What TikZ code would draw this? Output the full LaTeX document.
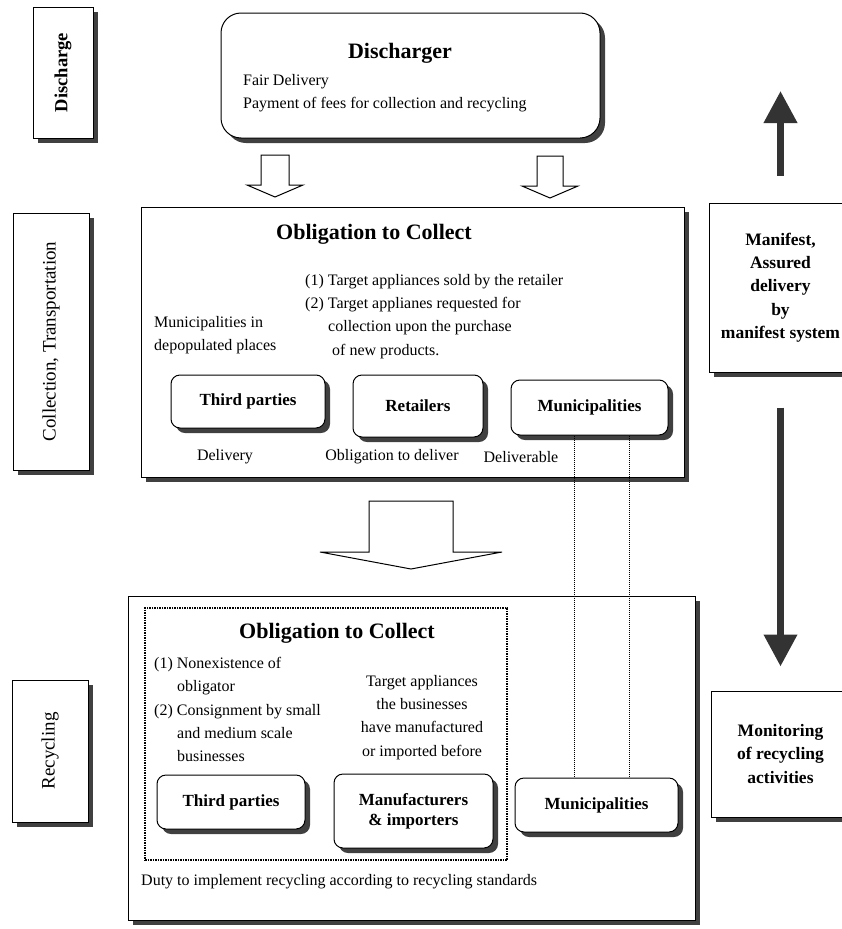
\documentclass[tikz,border=0pt]{standalone}
\usepackage{fontspec}
\setmainfont{Liberation Serif}
\usetikzlibrary{arrows.meta,positioning,shadows}

\begin{document}
\begin{tikzpicture}[
  x=1pt,y=-1pt,
  shadowed/.style={drop shadow={shadow xshift=5pt,shadow yshift=-5pt,fill=black!75,opacity=1}},
  panel/.style={draw,line width=1pt,fill=white,shadowed,inner sep=0pt},
  party/.style={panel,rounded corners=9pt,align=center,font=\fontsize{17}{20}\selectfont\bfseries},
  sidebox/.style={panel,align=center,font=\fontsize{19}{23}\selectfont},
  sidebold/.style={panel,align=center,font=\fontsize{17.5}{23.3}\selectfont\bfseries},
  heading/.style={inner sep=0pt,font=\fontsize{22}{26}\selectfont\bfseries},
  body/.style={inner sep=0pt,align=left,font=\fontsize{16}{23.3}\selectfont},
  hollow/.style={draw,line width=1pt,fill=white},
  fat/.style={draw=black!80,line width=7pt,-{Triangle[length=32pt,width=32pt]}},
  dots/.style={densely dotted,line width=1pt}
]
\useasboundingbox (0,0) rectangle (842,929);

\node[sidebold,minimum width=60,minimum height=131,font=\fontsize{18.5}{22}\selectfont\bfseries] (dislab) at (63,72.5) {\rotatebox{90}{Discharge}};
\node[panel,rounded corners=20pt,minimum width=379,minimum height=125] (disch) at (410.5,75.5) {};
\node[heading] (dtitle) at (400,53) {Discharger};
\node[body,anchor=north west] (dtext) at (243,74) {Fair Delivery\\Payment of fees for collection and recycling};

\draw[hollow,shift={(275,155)}] (-14,0) -- (-14,30) -- (-28,30) -- (0,42) -- (28,30) -- (14,30) -- (14,0) -- cycle;
\draw[hollow,shift={(550,156)}] (-13,0) -- (-13,30) -- (-28,30) -- (0,42) -- (28,30) -- (13,30) -- (13,0) -- cycle;

\node[sidebox,minimum width=76,minimum height=257] (collab) at (51,341.5) {\rotatebox{90}{Collection, Transportation}};
\node[panel,minimum width=543,minimum height=270] (coll) at (412.5,342) {};
\node[heading] (ctitle) at (374,234) {Obligation to Collect};
\node[body,anchor=north west] (ctarget) at (305,274) {(1) Target appliances sold by the retailer\\(2) Target applianes requested for\\\hspace*{23pt}collection upon the purchase\\\hspace*{27pt}of new products.};
\node[body,anchor=north west] (cdepop) at (154,316) {Municipalities in\\depopulated places};
\node[party,minimum width=154,minimum height=53] (cthird) at (248,401.5) {Third parties};
\node[party,minimum width=130,minimum height=62] (cretail) at (418,406) {Retailers};
\node[party,minimum width=157,minimum height=55] (cmuni) at (589.5,407.5) {Municipalities};
\node[body] (cdel) at (225,457) {Delivery};
\node[body] (cobl) at (392,457) {Obligation to deliver};
\node[body] (cdeliv) at (521,457) {Deliverable};

\draw[hollow,shift={(411,501)}] (-42,0) -- (-42,51) -- (-91,51) -- (0,68) -- (91,51) -- (42,51) -- (42,0) -- cycle;

\node[sidebox,minimum width=76,minimum height=142] (reclab) at (50,751) {\rotatebox{90}{Recycling}};
\node[panel,minimum width=567,minimum height=324] (recyc) at (411.5,758) {};
\node[draw,densely dotted,line width=1.5pt,minimum width=362,minimum height=252,inner sep=0pt] (oblig) at (326,734) {};
\node[heading] (rtitle) at (337,633) {Obligation to Collect};
\node[body,anchor=north west] (rcases) at (154,657) {(1) Nonexistence of\\\hspace*{23pt}obligator\\(2) Consignment by small\\\hspace*{23pt}and medium scale\\\hspace*{23pt}businesses};
\node[body,align=center,anchor=north] (rtarget) at (422,675) {Target appliances\\the businesses\\have manufactured\\or imported before};
\node[party,minimum width=148,minimum height=54] (rthird) at (231,802) {Third parties};
\node[party,minimum width=159,minimum height=74] (rmanu) at (413.5,811) {Manufacturers\\\& importers};
\node[party,minimum width=163,minimum height=54] (rmuni) at (596.5,805) {Municipalities};
\node[body,anchor=west] (rduty) at (141,882) {Duty to implement recycling according to recycling standards};

\node[sidebold,minimum width=143,minimum height=169] (manif) at (780.5,287.5) {Manifest,\\Assured\\delivery\\by\\manifest system};
\node[sidebold,minimum width=139,minimum height=126] (monit) at (780.5,754) {Monitoring\\of recycling\\activities};
\coordinate (uptip) at (780.5,91);
\draw[fat,shorten <=27pt] (manif.north) -- (uptip);
\draw[fat,shorten <=35pt,shorten >=24pt] (manif.south) -- (monit.north);

\coordinate (dl) at (574,0);
\coordinate (dr) at (629,0);
\draw[dots] (cmuni.south -| dl) -- (rmuni.north -| dl);
\draw[dots] (cmuni.south -| dr) -- (rmuni.north -| dr);
\end{tikzpicture}
\end{document}
